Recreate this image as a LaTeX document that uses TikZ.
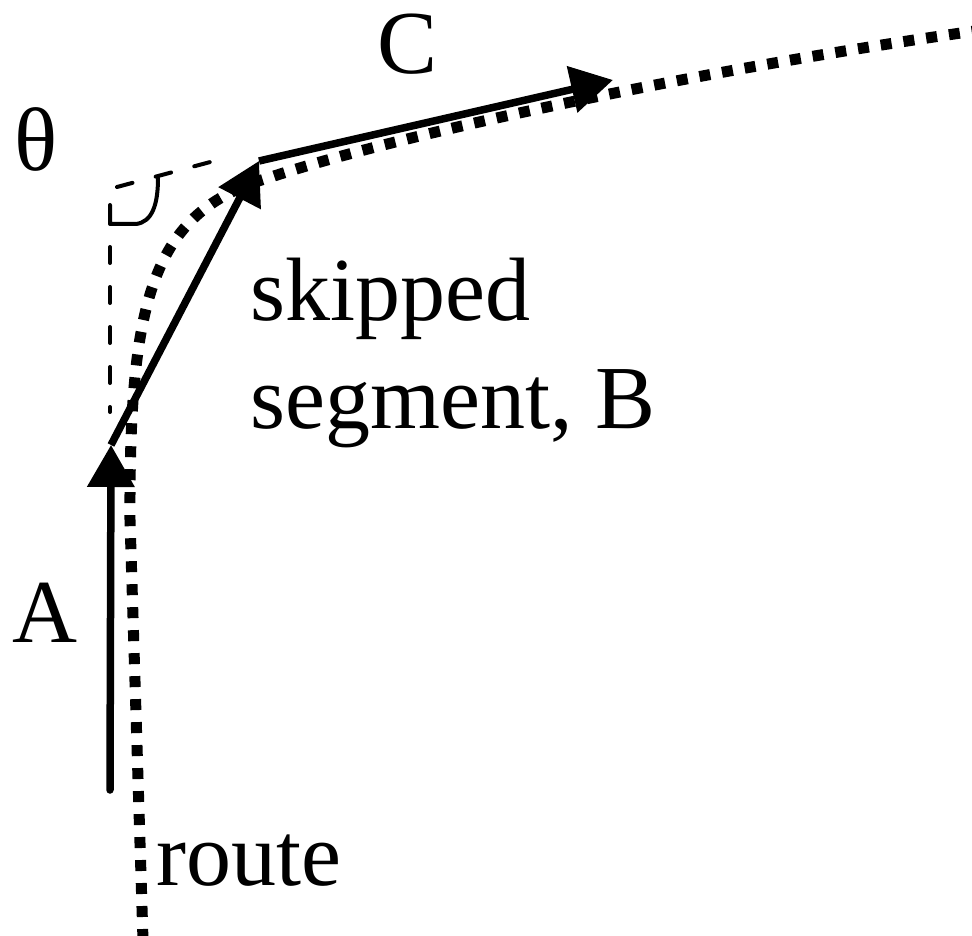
\documentclass[tikz,border=0pt]{standalone}
\usepackage{fontspec}
\setmainfont{Liberation Serif}
\usetikzlibrary{arrows.meta}
\begin{document}
\begin{tikzpicture}[x=1pt,y=-1pt,
  lbl/.style={inner sep=0pt, font=\fontsize{90}{108}\selectfont, anchor=base west, align=left},
  vec/.style={line width=7.5pt, line cap=round, -{Triangle[length=42pt,width=46pt]}},
  routeline/.style={line width=11pt, dash pattern=on 11pt off 12pt},
  guide/.style={line width=4pt, dash pattern=on 16pt off 24pt, line cap=round},
  anglemark/.style={line width=4pt, line cap=round, line join=round},
]
\useasboundingbox (0,0) rectangle (972,936);
% key points
\coordinate (a0) at (110,790);
\coordinate (a1) at (111,445);
\coordinate (b1) at (259,161);
\coordinate (c1) at (613,80);
\coordinate (r0) at (143,940);
\coordinate (r1) at (130,520);
\coordinate (r2) at (268,178);
\coordinate (r3) at (975,31);
\coordinate (v0) at (110,247);
\coordinate (v1) at (110,412);
\coordinate (h0) at (117,187);
\coordinate (h1) at (214,161);
% route (dotted)
\draw[routeline] (r0) -- (r1) .. controls (129,300) and (152,212) .. (r2)
  .. controls (400,134) and (700,70) .. (r3);
% guides
\draw[guide] (v0) -- (v1);
\draw[guide] (h0) -- (h1);
\draw[anglemark] (110,205) -- (110,224) -- (136,224) .. controls (152,222) and (158,205) .. (158,178);
% vectors
\draw[vec] (a0) -- (a1);
\draw[vec, line cap=butt] (a1) -- (b1);
\draw[vec, line cap=butt] (b1) -- (c1);
% labels
\node[lbl] (theta) at (14,171) {θ};
\node[lbl] (lc) at (377,74) {C};
\node[lbl] (la) at (12,642) {A};
\node[lbl] (lb) at (250,428) {skipped\\segment, B};
\node[lbl] (lr) at (156,885) {route};
\end{tikzpicture}
\end{document}
